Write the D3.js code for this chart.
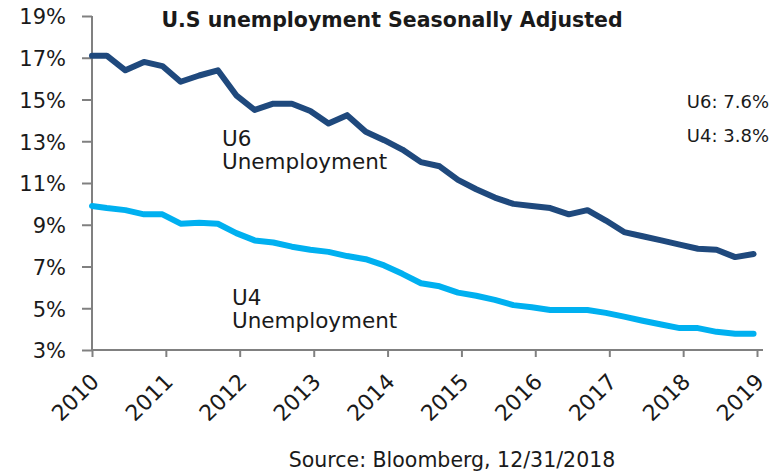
<!doctype html>
<html lang="en-US">
<head>
  <meta charset="utf-8">
  <title>U.S unemployment</title>
  <script type="text/javascript" src="https://d3js.org/d3.v7.min.js"></script>
  <style>
    body { margin: 0; background: #fff; }
    svg text { font-family: "DejaVu Sans", sans-serif; fill: #1a1a1a; }
  </style>
</head>
<body>
<svg id="chart" width="782" height="474"></svg>

<script type="text/javascript">
// quarterly readings, first point is Jan 2010
var dates = ["2010-01-01",
  "2010-03-15", "2010-06-15", "2010-09-15", "2010-12-15",
  "2011-03-15", "2011-06-15", "2011-09-15", "2011-12-15",
  "2012-03-15", "2012-06-15", "2012-09-15", "2012-12-15",
  "2013-03-15", "2013-06-15", "2013-09-15", "2013-12-15",
  "2014-03-15", "2014-06-15", "2014-09-15", "2014-12-15",
  "2015-03-15", "2015-06-15", "2015-09-15", "2015-12-15",
  "2016-03-15", "2016-06-15", "2016-09-15", "2016-12-15",
  "2017-03-15", "2017-06-15", "2017-09-15", "2017-12-15",
  "2018-03-15", "2018-06-15", "2018-09-15", "2018-12-15"];

var u6 = [17.1,
  17.1, 16.4, 16.8, 16.6,
  15.85, 16.15, 16.4, 15.2,
  14.5, 14.8, 14.8, 14.45,
  13.85, 14.25, 13.45, 13.05,
  12.6, 12.0, 11.8, 11.15,
  10.7, 10.3, 10.0, 9.9,
  9.8, 9.5, 9.7, 9.2,
  8.65, 8.45, 8.25, 8.05,
  7.85, 7.8, 7.45, 7.6];

var u4 = [9.9,
  9.8, 9.7, 9.5, 9.5,
  9.05, 9.1, 9.05, 8.6,
  8.25, 8.15, 7.95, 7.8,
  7.7, 7.5, 7.35, 7.05,
  6.65, 6.2, 6.05, 5.75,
  5.6, 5.4, 5.15, 5.05,
  4.92, 4.92, 4.92, 4.78,
  4.6, 4.4, 4.22, 4.05,
  4.05, 3.87, 3.78, 3.78];

var yTicks = [3, 5, 7, 9, 11, 13, 15, 17, 19];
var xYears = [2010, 2011, 2012, 2013, 2014, 2015, 2016, 2017, 2018, 2019];
var lastU6 = "7.6%", lastU4 = "3.8%";

var svg = d3.select("#chart");
var plotL = 92, plotR = 757, plotT = 16, plotB = 350;

var parse = d3.timeParse("%Y-%m-%d");
var x = d3.scaleTime()
  .domain([new Date(2010, 0, 1), new Date(2019, 0, 1)])
  .range([plotL, plotR]);
var y = d3.scaleLinear().domain([3, 19]).range([plotB, plotT]);

// y axis
var yAxis = svg.append("g")
  .attr("transform", "translate(" + plotL + ",0)")
  .call(d3.axisLeft(y).tickValues(yTicks).tickSize(10).tickPadding(16)
    .tickFormat(function(d) { return d + "%"; }));
yAxis.select(".domain").remove();
yAxis.selectAll(".tick line").attr("stroke", "#808080").attr("stroke-width", 2);
yAxis.selectAll(".tick text").style("font-size", "21px").attr("fill", "#1a1a1a").attr("dy", "0.38em");

svg.append("line")
  .attr("x1", plotL).attr("x2", plotL).attr("y1", plotT).attr("y2", plotB)
  .attr("stroke", "#808080").attr("stroke-width", 2);

// x axis
var xAxis = svg.append("g")
  .attr("transform", "translate(0," + plotB + ")")
  .call(d3.axisBottom(x)
    .tickValues(xYears.map(function(d) { return new Date(d, 0, 1); }))
    .tickSize(7).tickFormat(d3.timeFormat("%Y")));
xAxis.select(".domain").remove();
xAxis.selectAll(".tick line").attr("stroke", "#808080").attr("stroke-width", 2);
xAxis.selectAll(".tick text")
  .style("font-size", "22px").attr("fill", "#1a1a1a")
  .attr("text-anchor", "end")
  .attr("dy", null).attr("y", 0)
  .attr("transform", "translate(8,33) rotate(-45)");

svg.append("line")
  .attr("x1", plotL).attr("x2", 763).attr("y1", plotB).attr("y2", plotB)
  .attr("stroke", "#808080").attr("stroke-width", 2);

// lines
var line = d3.line()
  .x(function(d) { return x(parse(d[0])); })
  .y(function(d) { return y(d[1]); });

svg.append("path")
  .datum(d3.zip(dates, u4))
  .attr("d", line)
  .attr("fill", "none").attr("stroke", "#00b0f0").attr("stroke-width", 6)
  .attr("stroke-linejoin", "round").attr("stroke-linecap", "round");

svg.append("path")
  .datum(d3.zip(dates, u6))
  .attr("d", line)
  .attr("fill", "none").attr("stroke", "#1f497d").attr("stroke-width", 6)
  .attr("stroke-linejoin", "round").attr("stroke-linecap", "round");

// title
svg.append("text")
  .attr("x", 392).attr("y", 27)
  .attr("text-anchor", "middle")
  .style("font-size", "20.5px").style("font-weight", "bold")
  .text("U.S unemployment Seasonally Adjusted");

// series labels
var lbl6 = svg.append("text").attr("x", 222).attr("y", 146).style("font-size", "21.5px");
lbl6.append("tspan").attr("x", 222).text("U6");
lbl6.append("tspan").attr("x", 222).attr("dy", 23).text("Unemployment");

var lbl4 = svg.append("text").attr("x", 232).attr("y", 305).style("font-size", "21.5px");
lbl4.append("tspan").attr("x", 232).text("U4");
lbl4.append("tspan").attr("x", 232).attr("dy", 23).text("Unemployment");

svg.append("text")
  .attr("x", 769).attr("y", 108).attr("text-anchor", "end")
  .style("font-size", "18px")
  .text("U6: " + lastU6);
svg.append("text")
  .attr("x", 769).attr("y", 142).attr("text-anchor", "end")
  .style("font-size", "18px")
  .text("U4: " + lastU4);

svg.append("text")
  .attr("x", 452).attr("y", 467).attr("text-anchor", "middle")
  .style("font-size", "20.5px")
  .text("Source: Bloomberg, 12/31/2018");
</script>
</body>
</html>
